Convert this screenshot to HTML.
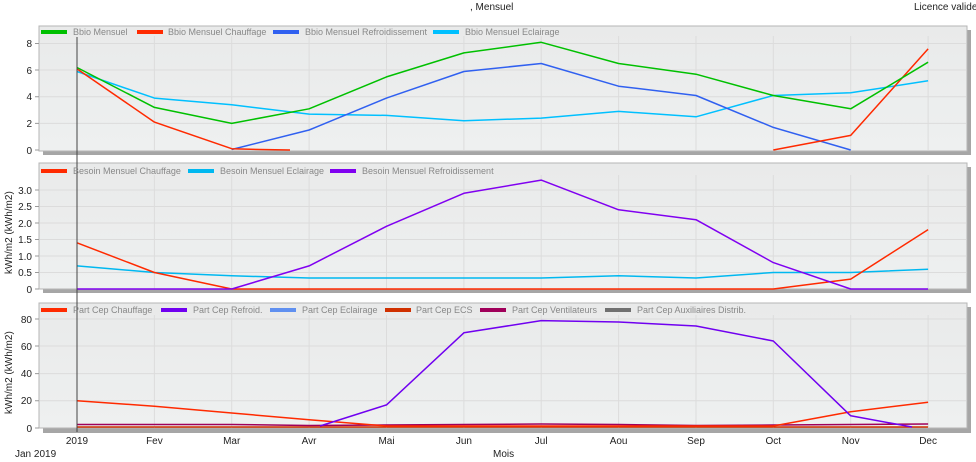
<!DOCTYPE html>
<html><head><meta charset="utf-8"><style>
body{margin:0;background:#fff;}
svg{display:block;font-family:"Liberation Sans",sans-serif;}
</style></head><body>
<svg width="976" height="462" viewBox="0 0 976 462">
<defs>
<linearGradient id="bg" x1="0" y1="0" x2="0" y2="1"><stop offset="0" stop-color="#e9eaea"/><stop offset="1" stop-color="#eef0f0"/></linearGradient>
</defs>
<text x="470" y="10" font-size="10" fill="#222">, Mensuel</text>
<text x="914" y="10" font-size="10" fill="#222">Licence valide</text>

<!-- panel frames -->
<g>
<rect x="43" y="30" width="928" height="125" fill="#a6a6a6"/>
<rect x="39" y="26" width="928" height="125" fill="url(#bg)" stroke="#b5b5b5"/>
<rect x="43" y="167" width="928" height="126" fill="#a6a6a6"/>
<rect x="39" y="163" width="928" height="126" fill="url(#bg)" stroke="#b5b5b5"/>
<rect x="43" y="307" width="928" height="126" fill="#a6a6a6"/>
<rect x="39" y="303" width="928" height="125" fill="url(#bg)" stroke="#b5b5b5"/>
</g>

<!-- grid -->
<g stroke="#dcdcdc" stroke-width="1">
<path d="M154.4 36V150M231.7 36V150M309.1 36V150M386.5 36V150M463.9 36V150M541.2 36V150M618.6 36V150M696 36V150M773.3 36V150M850.7 36V150M928.1 36V150"/>
<path d="M40 43.5H966M40 70H966M40 96.8H966M40 123.4H966"/>
<path d="M154.4 175V289M231.7 175V289M309.1 175V289M386.5 175V289M463.9 175V289M541.2 175V289M618.6 175V289M696 175V289M773.3 175V289M850.7 175V289M928.1 175V289"/>
<path d="M40 190H966M40 206.5H966M40 223H966M40 239.5H966M40 256H966M40 272.5H966"/>
<path d="M154.4 315V428M231.7 315V428M309.1 315V428M386.5 315V428M463.9 315V428M541.2 315V428M618.6 315V428M696 315V428M773.3 315V428M850.7 315V428M928.1 315V428"/>
<path d="M40 319H966M40 346H966M40 373.6H966M40 400.8H966"/>
</g>

<!-- y ticks -->
<g font-size="10" fill="#222" text-anchor="end">
<text x="32" y="47">8</text><text x="32" y="74">6</text><text x="32" y="100">4</text><text x="32" y="127">2</text><text x="32" y="154">0</text>
<text x="32" y="194">3.0</text><text x="32" y="210">2.5</text><text x="32" y="227">2.0</text><text x="32" y="243">1.5</text><text x="32" y="260">1.0</text><text x="32" y="276">0.5</text><text x="32" y="293">0</text>
<text x="32" y="323">80</text><text x="32" y="350">60</text><text x="32" y="377">40</text><text x="32" y="404">20</text><text x="32" y="432">0</text>
</g>
<g stroke="#999"><path d="M35 43.5H39M35 70H39M35 96.8H39M35 123.4H39M35 150H39M35 190H39M35 206.5H39M35 223H39M35 239.5H39M35 256H39M35 272.5H39M35 289H39M35 319H39M35 346H39M35 373.6H39M35 400.8H39M35 428H39"/></g>
<text transform="translate(12,274) rotate(-90)" font-size="10" fill="#222">kWh/m2 (kWh/m2)</text>
<text transform="translate(12,414) rotate(-90)" font-size="10" fill="#222">kWh/m2 (kWh/m2)</text>

<!-- x labels -->
<g font-size="10" fill="#222" text-anchor="middle">
<text x="77" y="444">2019</text><text x="154.4" y="444">Fev</text><text x="231.7" y="444">Mar</text><text x="309.1" y="444">Avr</text><text x="386.5" y="444">Mai</text><text x="463.9" y="444">Jun</text><text x="541.2" y="444">Jul</text><text x="618.6" y="444">Aou</text><text x="696" y="444">Sep</text><text x="773.3" y="444">Oct</text><text x="850.7" y="444">Nov</text><text x="928.1" y="444">Dec</text>
</g>
<text x="15" y="457" font-size="10" fill="#222">Jan  2019</text>
<text x="493" y="457" font-size="10" fill="#222">Mois</text>

<!-- panel1 series -->
<g fill="none" stroke-width="1.5" stroke-linejoin="round">
<polyline stroke="#00c0ff" points="77,71.5 154.4,98.1 231.7,104.8 309.1,114.1 386.5,115.4 463.9,120.7 541.2,118.1 618.6,111.4 696,116.8 773.3,95.5 850.7,92.8 928.1,80.8"/>
<polyline stroke="#3060f0" points="231.7,149.5 309.1,130 386.5,98.1 463.9,71.5 541.2,63.5 618.6,86.2 696,95.5 773.3,127.4 850.7,150"/>
<polyline stroke="#ff2a00" points="77,68.9 154.4,122.1 231.7,148.7 260,149.5 290,150"/>
<polyline stroke="#ff2a00" points="773.3,150 850.7,135.4 928.1,48.9"/>
<polyline stroke="#00c000" points="77,67.5 154.4,107.4 231.7,123.4 309.1,108.8 386.5,76.9 463.9,52.9 541.2,42.3 618.6,63.5 696,74.2 773.3,95.5 850.7,108.8 928.1,62.2"/>
</g>
<!-- panel2 series -->
<g fill="none" stroke-width="1.5" stroke-linejoin="round">
<polyline stroke="#00b8f0" points="77,265.9 154.4,272.5 231.7,275.8 309.1,278 386.5,278 463.9,278 541.2,278 618.6,275.8 696,278 773.3,272.5 850.7,272.5 928.1,269.2"/>
<polyline stroke="#ff2a00" points="77,242.8 154.4,272.5 231.7,289 773.3,289 850.7,279.1 928.1,229.6"/>
<polyline stroke="#8000f0" points="77,289 231.7,289 309.1,265.9 386.5,226.3 463.9,193.3 541.2,180.1 618.6,209.8 696,219.7 773.3,262.6 850.7,289 928.1,289"/>
</g>
<!-- panel3 series -->
<g fill="none" stroke-width="1.5" stroke-linejoin="round">
<polyline stroke="#d03000" points="77,427 928.1,427"/>
<polyline stroke="#a0005a" points="77,424.5 231.7,424.5 309.1,425.5 463.9,424.5 541.2,424 618.6,424.5 696,425.5 773.3,425 850.7,424.5 928.1,424"/>
<polyline stroke="#ff2a00" points="77,400.8 154.4,406.2 231.7,413 309.1,419.8 386.5,426 773.3,426 850.7,411.7 928.1,402.2"/>
<polyline stroke="#7000f0" points="320,426 386.5,404.9 463.9,332.8 541.2,320.6 618.6,322 696,326 773.3,341 850.7,415.8 912,427"/>
</g>
<line x1="77" y1="37" x2="77" y2="432" stroke="#444" stroke-width="1"/>

<!-- legends -->
<g font-size="9" fill="#888">
<rect x="41" y="30" width="26" height="4" fill="#00c000"/><text x="73" y="35">Bbio Mensuel</text>
<rect x="137" y="30" width="26" height="4" fill="#ff2a00"/><text x="168" y="35">Bbio Mensuel Chauffage</text>
<rect x="273" y="30" width="26" height="4" fill="#3060f0"/><text x="305" y="35">Bbio Mensuel Refroidissement</text>
<rect x="433" y="30" width="26" height="4" fill="#00c0ff"/><text x="465" y="35">Bbio Mensuel Eclairage</text>

<rect x="41" y="169" width="26" height="4" fill="#ff2a00"/><text x="73" y="174">Besoin Mensuel Chauffage</text>
<rect x="188" y="169" width="26" height="4" fill="#00b8f0"/><text x="220" y="174">Besoin Mensuel Eclairage</text>
<rect x="330" y="169" width="26" height="4" fill="#8000f0"/><text x="362" y="174">Besoin Mensuel Refroidissement</text>

<rect x="41" y="308" width="26" height="4" fill="#ff2a00"/><text x="73" y="313">Part Cep Chauffage</text>
<rect x="161" y="308" width="26" height="4" fill="#7000f0"/><text x="193" y="313">Part Cep Refroid.</text>
<rect x="270" y="308" width="26" height="4" fill="#6090f0"/><text x="302" y="313">Part Cep Eclairage</text>
<rect x="385" y="308" width="26" height="4" fill="#d03000"/><text x="416" y="313">Part Cep ECS</text>
<rect x="480" y="308" width="26" height="4" fill="#a0005a"/><text x="512" y="313">Part Cep Ventilateurs</text>
<rect x="605" y="308" width="26" height="4" fill="#707070"/><text x="637" y="313">Part Cep Auxiliaires Distrib.</text>
</g>
</svg>
</body></html>
